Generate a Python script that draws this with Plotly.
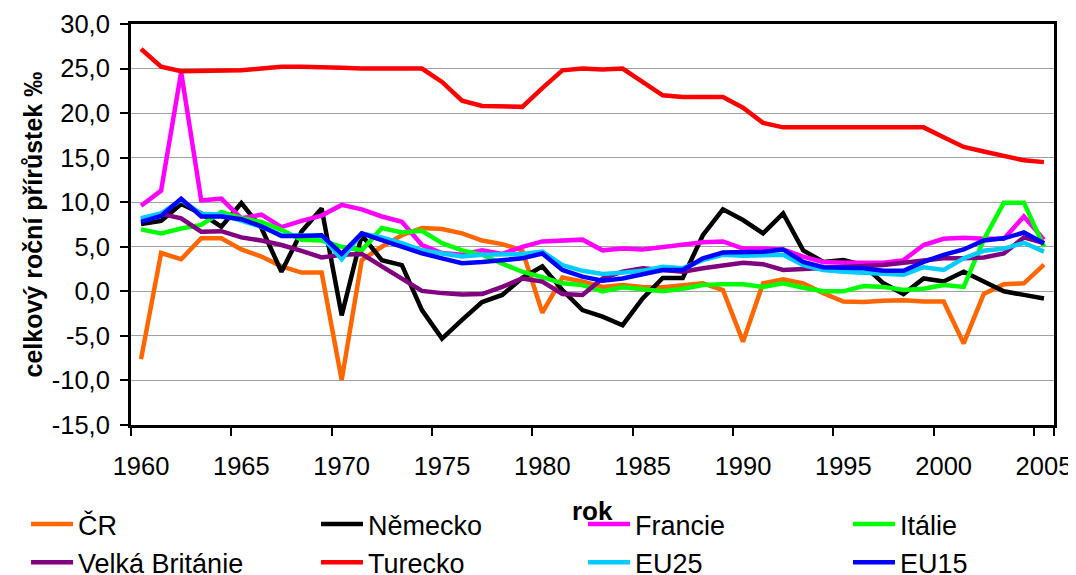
import plotly.graph_objects as go

years = list(range(1960, 2006))

cr = [-7.6, 4.3, 3.6, 5.95, 5.95, 4.7, 3.9, 2.8, 2.1, 2.1,
      -9.95, 3.5, 5.0, 6.3, 7.1, 7.0, 6.5, 5.7, 5.3, 4.6,
      -2.4, 1.55, 1.1, 0.5, 0.7, 0.5, 0.45, 0.7, 0.9, 0.15,
      -5.65, 0.9, 1.35, 0.9, -0.2, -1.15, -1.2, -1.05, -1.0, -1.15,
      -1.15, -5.85, -0.3, 0.8, 0.9, 3.0]
nemecko = [7.55, 7.9, 9.8, 8.75, 7.25, 9.9, 7.1, 2.2, 6.7, 9.3,
           -2.7, 6.3, 3.5, 2.95, -2.1, -5.3, -3.2, -1.2, -0.4, 1.5,
           2.8, 0.15, -2.1, -2.85, -3.8, -0.8, 1.5, 1.5, 6.3, 9.2,
           8.0, 6.5, 8.75, 4.6, 3.3, 3.5, 2.95, 0.9, -0.3, 1.45,
           1.1, 2.2, 1.1, 0.0, -0.4, -0.8]
francie = [9.6, 11.3, 24.6, 10.2, 10.4, 8.2, 8.6, 7.2, 7.9, 8.5,
           9.7, 9.2, 8.4, 7.8, 5.2, 4.3, 4.1, 4.6, 4.2, 5.0,
           5.6, 5.7, 5.8, 4.6, 4.8, 4.7, 5.0, 5.2, 5.5, 5.6,
           4.8, 4.8, 4.7, 3.9, 3.3, 3.2, 3.2, 3.2, 3.5, 5.2,
           5.9, 6.0, 5.9, 5.9, 8.4, 5.8]
italie = [6.95, 6.5, 7.05, 7.45, 8.9, 8.2, 7.8, 6.9, 5.8, 5.7,
          5.0, 4.6, 7.1, 6.6, 6.8, 5.4, 4.6, 4.1, 3.1, 2.2,
          1.6, 0.9, 0.7, 0.0, 0.45, 0.25, 0.0, 0.3, 0.7, 0.8,
          0.8, 0.5, 0.9, 0.4, 0.0, 0.0, 0.6, 0.5, 0.15, 0.3,
          0.7, 0.5, 5.8, 9.95, 9.95, 5.0]
velka_britanie = [8.1, 8.7, 8.2, 6.7, 6.75, 6.05, 5.7, 5.2, 4.55, 3.8,
                  4.1, 4.2, 2.8, 1.45, 0.05, -0.2, -0.35, -0.3, 0.5, 1.45,
                  1.1, -0.3, -0.4, 1.45, 2.2, 2.6, 2.4, 2.2, 2.6, 2.95,
                  3.2, 3.05, 2.4, 2.5, 2.6, 2.7, 2.75, 2.95, 3.2, 3.5,
                  3.7, 3.7, 3.8, 4.25, 6.05, 5.4]
turecko = [27.2, 25.2, 24.7, 24.7, 24.7, 24.8, 25.0, 25.2, 25.2, 25.2,
           25.1, 25.0, 25.0, 25.0, 25.0, 23.5, 21.4, 20.8, 20.7, 20.7,
           22.8, 24.8, 25.0, 24.9, 25.0, 23.5, 22.0, 21.8, 21.8, 21.8,
           20.6, 18.9, 18.4, 18.4, 18.4, 18.4, 18.4, 18.4, 18.4, 18.4,
           17.3, 16.2, 15.7, 15.2, 14.7, 14.5]
eu25 = [8.2, 8.75, 10.25, 8.7, 8.6, 7.9, 7.25, 6.3, 6.2, 6.2,
        3.6, 6.5, 6.05, 5.4, 4.6, 4.25, 3.9, 4.1, 4.1, 4.2,
        4.45, 2.95, 2.3, 1.95, 2.1, 2.3, 2.75, 2.6, 3.5, 4.1,
        4.0, 4.0, 4.1, 2.95, 2.4, 2.2, 2.1, 2.0, 1.85, 2.7,
        2.4, 3.7, 4.55, 4.8, 5.45, 4.45]
eu15 = [7.8, 8.45, 10.4, 8.4, 8.4, 8.1, 7.3, 6.2, 6.2, 6.3,
        4.2, 6.5, 5.75, 5.0, 4.25, 3.7, 3.15, 3.3, 3.5, 3.7,
        4.25, 2.4, 1.65, 1.2, 1.45, 1.95, 2.4, 2.4, 3.7, 4.35,
        4.35, 4.45, 4.7, 3.3, 2.7, 2.7, 2.6, 2.3, 2.3, 3.3,
        4.1, 4.7, 5.7, 5.95, 6.6, 5.4]

# (name, values, colour, legend column)
series = [
    ("ČR", cr, "#FF6600", "legend"),
    ("Německo", nemecko, "#000000", "legend2"),
    ("Francie", francie, "#FF00FF", "legend3"),
    ("Itálie", italie, "#00FF00", "legend4"),
    ("Velká Británie", velka_britanie, "#800080", "legend"),
    ("Turecko", turecko, "#FF0000", "legend2"),
    ("EU25", eu25, "#00CCFF", "legend3"),
    ("EU15", eu15, "#0000FF", "legend4"),
]

cats = [str(y) for y in years]
y_ticks = list(range(-15, 31, 5))
y_labels = [f"{v},0" for v in y_ticks]
x_labels = [str(y) for y in range(1960, 2006, 5)]
y_title = "celkový roční přírůstek ‰"
x_title = "rok"

font_family = "Liberation Sans, Arial, sans-serif"

fig = go.Figure()
for name, vals, color, leg in series:
    fig.add_trace(go.Scatter(x=cats, y=vals, mode="lines", name=name,
                             legend=leg,
                             line=dict(color=color, width=4.5)))

legend_common = dict(orientation="v", xref="container", yref="container",
                     xanchor="left", yanchor="top", y=0.18,
                     font=dict(size=27), itemwidth=42, tracegroupgap=0,
                     bgcolor="rgba(0,0,0,0)")
col_x = [0.0169, 0.2884, 0.5384, 0.7865]

fig.update_layout(
    width=1068, height=600,
    margin=dict(l=123, r=22, t=16, b=183, autoexpand=False),
    paper_bgcolor="white", plot_bgcolor="white",
    font=dict(family=font_family, size=25, color="black"),
    showlegend=True,
    legend=dict(legend_common, x=col_x[0]),
    legend2=dict(legend_common, x=col_x[1]),
    legend3=dict(legend_common, x=col_x[2]),
    legend4=dict(legend_common, x=col_x[3]),
    xaxis=dict(type="category", categoryorder="array", categoryarray=cats,
               tickvals=x_labels, ticktext=x_labels, tickson="boundaries",
               tickangle=0, automargin=False,
               ticks="outside", ticklen=8, tickcolor="black", tickwidth=1.5,
               ticklabelstandoff=16,
               showgrid=False, showline=True, linecolor="black", linewidth=3,
               mirror=True, range=[-0.5, 45.5],
               tickfont=dict(size=25.5)),
    yaxis=dict(range=[-15, 30], tickvals=y_ticks, ticktext=y_labels,
               ticks="outside", ticklen=8, tickcolor="black", tickwidth=1.5,
               ticklabelstandoff=5, automargin=False,
               showgrid=True, gridcolor="#A0A0A0", gridwidth=1,
               showline=True, linecolor="black", linewidth=3, mirror=True,
               zeroline=False,
               tickfont=dict(size=25.5)),
    annotations=[
        dict(text=f"<b>{y_title}</b>", xref="paper", yref="paper",
             x=-0.1062, y=0.5, xanchor="center", yanchor="middle",
             textangle=-90, showarrow=False, font=dict(size=25)),
        dict(text=f"<b>{x_title}</b>", xref="paper", yref="paper",
             x=0.5, y=-0.2145, xanchor="center", yanchor="middle",
             showarrow=False, font=dict(size=26)),
    ],
)

fig.write_html("out.html")
